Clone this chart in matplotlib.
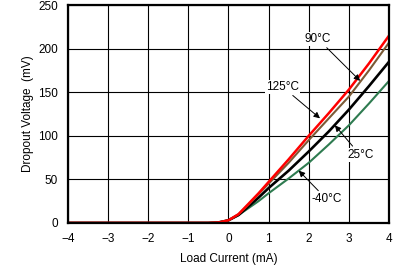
import matplotlib
matplotlib.use('Agg')
import matplotlib.pyplot as plt

plt.rcParams['font.family'] = ['Liberation Sans', 'DejaVu Sans']

# load current (mA) and dropout voltage (mV) per temperature
current = [-4, -3, -2, -1, -0.5, -0.25, 0, 0.25, 0.5, 0.75, 1, 1.5, 2, 2.5, 3, 3.5, 4]
v_m40 = [0, 0, 0, 0, 0, 0.5, 3, 9, 17, 25, 34, 51, 69, 90, 112, 137, 163]
v_25 = [0, 0, 0, 0, 0, 0.5, 3, 9, 19, 29, 40, 60, 82, 105, 130, 157, 185]
v_90 = [0, 0, 0, 0, 0, 0.5, 3, 10, 21, 33, 45, 69, 95, 120, 145, 175, 207]
v_125 = [0, 0, 0, 0, 0, 0.5, 3, 10, 22, 34, 47, 73, 100, 126, 153, 183, 215]

fig = plt.figure(figsize=(4.04, 2.66), dpi=100)
ax = fig.add_axes([0.168, 0.162, 0.795, 0.819])

ax.plot(current, v_m40, color='#2e7b50', lw=1.5)
ax.plot(current, v_25, color='black', lw=1.9)
ax.plot(current, v_90, color='#7b5a36', lw=1.5)
ax.plot(current, v_125, color='#ff0000', lw=1.8)

ax.set_xlim(-4, 4)
ax.set_ylim(0, 250)
ax.set_xticks(range(-4, 5))
ax.set_yticks(range(0, 251, 50))
ax.set_xticklabels(['\u22124', '\u22123', '\u22122', '\u22121', '0', '1', '2', '3', '4'])
ax.grid(True, color='black', lw=0.8)
ax.set_axisbelow(True)
for s in ax.spines.values():
    s.set_linewidth(1.6)
ax.tick_params(length=0, labelsize=8.5)
ax.tick_params(axis='x', pad=7)
ax.tick_params(axis='y', pad=7)
ax.set_xlabel('Load Current (mA)', fontsize=8.5, labelpad=6)
ax.set_ylabel('Dropout Voltage  (mV)', fontsize=8.5, labelpad=3)

arrow = dict(arrowstyle='-|>', color='black', lw=0.7, mutation_scale=9, shrinkA=2, shrinkB=0)
box = dict(facecolor='white', edgecolor='none', pad=0.5)
ax.annotate('90\u00b0C', xy=(3.28, 163), xytext=(2.23, 211), fontsize=8.5,
            ha='center', va='center', arrowprops=arrow, bbox=box)
ax.annotate('125\u00b0C', xy=(2.28, 120), xytext=(1.35, 156), fontsize=8.5,
            ha='center', va='center', arrowprops=arrow, bbox=box)
ax.annotate('25\u00b0C', xy=(2.65, 112), xytext=(3.28, 78), fontsize=8.5,
            ha='center', va='center', arrowprops=arrow, bbox=box)
ax.annotate('-40\u00b0C', xy=(1.75, 60), xytext=(2.45, 27), fontsize=8.5,
            ha='center', va='center', arrowprops=arrow, bbox=box)

fig.savefig('out.png', dpi=100)
